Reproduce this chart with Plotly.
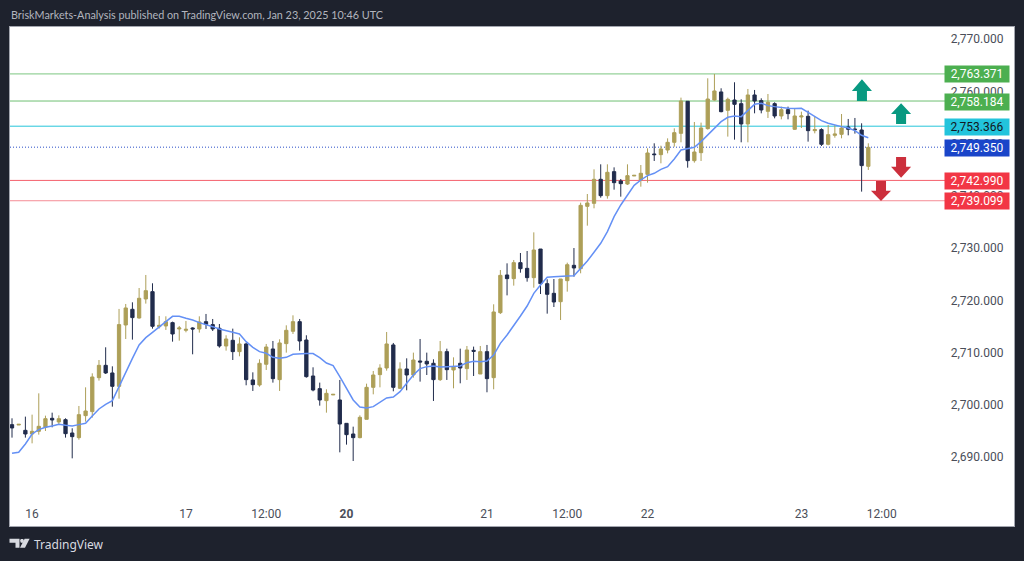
import plotly.graph_objects as go

W, H = 1024, 561
ML, MR, MT, MB = 10, 10, 27, 35

opens = [2696.25,2696.18,2695.16,2694.46,2694.97,2695.74,2697.46,2696.76,2697.2,2694.65,2693.76,2697.97,2698.74,2705.24,2707.6,2706.14,2703.58,2715.32,2718.32,2716.66,2720.3,2721.7,2715.0,2715.13,2715.77,2714.56,2714.3,2714.75,2714.56,2715.96,2715.39,2714.69,2711.3,2712.39,2710.22,2711.69,2704.8,2703.84,2707.8,2710.73,2704.86,2711.75,2714.11,2715.96,2712.45,2705.56,2703.14,2700.84,2701.93,2700.97,2696.5,2694.46,2693.76,2697.27,2703.39,2705.82,2707.09,2711.5,2703.2,2706.9,2705.75,2708.43,2708.37,2707.99,2704.86,2710.22,2706.71,2707.99,2706.97,2710.47,2705.94,2710.22,2705.24,2717.68,2724.89,2724.19,2727.25,2726.16,2724.38,2729.86,2723.23,2721.38,2719.78,2723.8,2726.74,2726.1,2738.03,2738.6,2743.2,2740.07,2744.67,2742.88,2742.3,2743.84,2743.07,2744.15,2748.05,2747.92,2748.81,2750.28,2752.0,2758.13,2746.77,2748.3,2752.9,2758.38,2759.92,2756.4,2758.38,2757.68,2753.79,2759.34,2758.26,2756.21,2757.68,2755.32,2756.53,2752.77,2755.13,2755.26,2752.51,2752.71,2749.9,2751.62,2751.81,2753.22,2752.83,2752.64,2745.69]
highs = [2697.46,2696.31,2697.78,2698.16,2702.24,2697.97,2698.54,2698.03,2697.46,2695.55,2699.82,2703.39,2706.07,2708.62,2711.05,2707.41,2718.39,2719.34,2719.66,2722.4,2724.89,2723.3,2717.05,2716.98,2715.96,2715.13,2716.09,2714.88,2716.98,2717.43,2716.47,2715.51,2713.35,2714.62,2712.96,2711.94,2706.26,2708.75,2711.69,2712.26,2712.58,2715.26,2717.17,2716.47,2713.35,2707.22,2704.29,2703.01,2702.05,2704.8,2696.5,2695.86,2698.03,2704.09,2706.52,2707.8,2713.98,2711.88,2708.18,2708.94,2710.03,2712.64,2710.03,2708.75,2712.26,2710.79,2709.13,2710.79,2711.3,2711.18,2711.3,2711.5,2719.28,2725.84,2727.12,2727.76,2729.1,2729.48,2733.05,2729.86,2724.06,2724.12,2724.12,2727.25,2730.05,2738.73,2740.39,2745.11,2746.07,2746.07,2745.49,2743.26,2746.07,2743.96,2745.94,2749.13,2750.09,2749.64,2751.04,2752.96,2758.83,2758.13,2754.17,2754.05,2762.53,2763.36,2760.62,2758.83,2761.77,2758.51,2760.49,2760.3,2758.7,2759.53,2757.94,2757.11,2757.11,2756.66,2756.15,2756.34,2755.19,2752.96,2753.6,2753.6,2755.7,2754.75,2754.94,2753.92,2750.09]
lows = [2693.76,2696.18,2693.76,2692.67,2694.33,2695.03,2695.74,2696.37,2693.76,2689.8,2693.37,2696.82,2697.59,2704.67,2705.94,2699.69,2701.22,2712.64,2712.52,2716.54,2719.41,2714.62,2714.62,2714.37,2712.13,2712.32,2713.92,2709.71,2713.86,2714.56,2714.17,2710.98,2710.41,2708.62,2709.33,2703.78,2702.69,2703.52,2706.71,2704.29,2702.69,2710.03,2713.6,2710.41,2705.24,2702.63,2699.88,2698.54,2701.93,2690.95,2692.42,2689.29,2693.63,2697.27,2702.05,2703.39,2706.58,2702.63,2703.07,2702.82,2705.24,2704.48,2705.75,2700.78,2704.6,2704.8,2703.2,2704.16,2704.8,2705.56,2705.94,2702.44,2703.01,2717.42,2720.99,2722.85,2725.33,2723.61,2722.46,2721.25,2717.49,2718.76,2716.27,2721.7,2724.57,2725.21,2734.33,2737.65,2739.69,2739.5,2741.22,2739.88,2742.11,2743.84,2741.79,2742.56,2746.71,2746.26,2748.17,2749.45,2750.28,2745.43,2746.39,2746.71,2752.71,2758.26,2756.02,2751.37,2750.79,2750.28,2750.28,2755.83,2755.83,2754.94,2754.87,2754.68,2754.68,2752.64,2753.02,2750.41,2752.0,2749.58,2749.71,2751.17,2751.05,2751.62,2751.94,2740.84,2744.99]
closes = [2695.61,2696.31,2694.46,2694.97,2695.93,2697.39,2697.14,2697.39,2694.52,2693.95,2698.16,2698.86,2705.37,2707.6,2706.14,2703.58,2715.39,2718.58,2716.73,2720.43,2721.89,2715.07,2715.26,2715.96,2713.6,2714.75,2714.49,2714.56,2715.9,2715.45,2714.56,2711.3,2712.64,2710.22,2711.69,2704.86,2703.9,2707.99,2711.11,2705.05,2711.88,2714.3,2715.96,2712.26,2705.43,2702.88,2700.97,2702.24,2702.05,2696.37,2694.33,2693.76,2697.65,2703.39,2705.75,2707.09,2711.69,2703.39,2706.9,2705.75,2708.62,2708.24,2707.86,2704.86,2710.22,2706.77,2707.28,2707.09,2710.54,2710.28,2710.22,2705.05,2717.81,2724.82,2724.19,2727.25,2726.1,2724.38,2729.67,2723.23,2721.19,2719.72,2724.12,2726.86,2726.23,2738.22,2738.67,2743.2,2740.07,2744.54,2742.56,2742.37,2743.9,2743.96,2744.35,2748.24,2747.92,2749.0,2750.28,2752.13,2758.19,2746.77,2748.43,2753.02,2758.57,2760.11,2756.15,2758.51,2757.55,2753.79,2759.34,2758.19,2756.47,2757.94,2755.32,2756.53,2755.77,2755.32,2755.32,2752.51,2752.71,2749.9,2751.75,2751.88,2753.02,2752.77,2752.71,2745.82,2749.32]
sma = [2690.76,2690.95,2692.55,2694.46,2695.29,2695.74,2695.99,2696.31,2696.12,2695.99,2696.25,2696.5,2697.91,2699.25,2700.14,2700.84,2703.52,2706.07,2708.94,2711.5,2712.9,2713.92,2714.88,2715.96,2716.98,2716.98,2716.6,2716.28,2715.77,2715.45,2715.0,2714.56,2714.17,2713.92,2713.6,2712.13,2711.05,2710.22,2709.9,2709.13,2708.94,2709.13,2709.71,2709.84,2709.84,2709.84,2709.07,2708.05,2707.54,2705.43,2703.2,2700.97,2699.63,2699.44,2699.69,2700.46,2701.35,2701.54,2702.56,2704.16,2705.75,2706.97,2707.35,2707.48,2707.28,2707.35,2707.35,2707.48,2708.11,2708.37,2708.3,2708.43,2709.57,2711.81,2713.4,2715.13,2717.04,2718.95,2721.38,2722.97,2724.44,2724.57,2724.7,2724.7,2724.76,2726.1,2727.57,2729.23,2730.95,2733.18,2736.05,2738.29,2740.2,2742.05,2743.07,2743.9,2744.35,2745.11,2745.62,2747.09,2748.81,2749.13,2749.32,2750.41,2751.68,2753.15,2754.24,2755.07,2755.32,2755.19,2756.47,2757.55,2757.75,2757.3,2757.11,2756.92,2756.79,2756.73,2756.79,2756.02,2755.19,2754.43,2753.92,2753.54,2753.28,2753.02,2752.51,2751.62,2751.17]

bar_index = list(range(len(closes)))
x_tick_positions = [3, 26, 38, 50, 71, 83, 95, 118, 130]
x_tick_labels = ["16", "17", "12:00", "<b>20</b>", "21", "12:00", "22", "23", "12:00"]
price_ticks = [2690, 2700, 2710, 2720, 2730, 2740, 2750, 2760, 2770]

level_prices = [2763.371, 2758.184, 2753.366, 2749.350, 2742.990, 2739.099]
level_labels = ["2,763.371", "2,758.184", "2,753.366", "2,749.350", "2,742.990", "2,739.099"]
level_line_colors = ["#7cc680", "#6fbf73", "#26c6da", "#2a4fc8", "#f4606c", "#f58d95"]
level_box_colors = ["#4caf50", "#4caf50", "#22c4dc", "#1a45c9", "#f23645", "#f23645"]
level_text_colors = ["#ffffff", "#ffffff", "#131722", "#ffffff", "#ffffff", "#ffffff"]
level_dash = ["solid", "solid", "solid", "1px,2px", "solid", "solid"]

# arrows: centre bar position, tip price, head-base price, tail price
arrow_x = [127.05, 132.9, 132.9, 129.9]
arrow_tip = [2762.34, 2757.75, 2743.5, 2739.05]
arrow_head = [2760.1, 2755.7, 2745.6, 2741.0]
arrow_tail = [2758.2, 2753.8, 2747.47, 2742.9]
arrow_colors = ["#089981", "#089981", "#cc2f3c", "#cc2f3c"]

GOLD = "#ad9f58"
NAVY = "#212c4c"
BG = "#1e222d"
EDGE = "#a3a6af"

fig = go.Figure()
fig.add_trace(go.Candlestick(
    x=bar_index, open=opens, high=highs, low=lows, close=closes,
    increasing=dict(line=dict(color=GOLD, width=1), fillcolor=GOLD),
    decreasing=dict(line=dict(color=NAVY, width=1), fillcolor=NAVY),
    hoverinfo="skip", showlegend=False,
))
fig.add_trace(go.Scatter(
    x=bar_index, y=sma, mode="lines",
    line=dict(color="#6490f5", width=1.5),
    hoverinfo="skip", showlegend=False,
))

shapes = []
for p, c, d in zip(level_prices, level_line_colors, level_dash):
    shapes.append(dict(type="line", xref="x", yref="y", x0=-0.3, x1=139.5, y0=p, y1=p,
                       line=dict(color=c, width=1, dash=d), layer="below"))
for x, tip, head, tail, col in zip(arrow_x, arrow_tip, arrow_head, arrow_tail, arrow_colors):
    hw, sw = 1.5, 0.75
    path = (f"M {x} {tip} L {x+hw} {head} L {x+sw} {head} L {x+sw} {tail} "
            f"L {x-sw} {tail} L {x-sw} {head} L {x-hw} {head} Z")
    shapes.append(dict(type="path", xref="x", yref="y", path=path,
                       fillcolor=col, line=dict(width=0), layer="above"))

def px(x):
    return (x - ML) / (W - ML - MR)
def py(y):
    return 1 - (y - MT) / (H - MT - MB)
def poly(pts):
    return "M " + " L ".join(f"{px(a):.5f} {py(b):.5f}" for a, b in pts) + " Z"

LOGO = "#d8dae0"
logo_paths = [
    poly([(9.5, 538.7), (19.5, 538.7), (19.5, 547.7), (15.5, 547.7), (15.5, 542.7), (9.5, 542.7)]),
    poly([(24.6, 538.7), (29.6, 538.7), (25, 547.7), (20, 547.7)]),
    poly([(20.8, 538.9), (23.2, 538.9), (23.9, 540.8), (23.2, 542.7), (20.8, 542.7), (20.1, 540.8)]),
]
for p in logo_paths:
    shapes.append(dict(type="path", xref="paper", yref="paper", path=p,
                       fillcolor=LOGO, line=dict(width=0), layer="above"))

annotations = [
    dict(xref="paper", yref="paper", x=px(10), y=py(14), xanchor="left", yanchor="middle",
         text="BriskMarkets-Analysis published on TradingView.com, Jan 23, 2025 10:46 UTC",
         showarrow=False, xshift=-1, font=dict(family="Lato", size=10.8, color="#b2b5be")),
    dict(xref="paper", yref="paper", x=px(32.5), y=py(544), xanchor="left", yanchor="middle",
         text="TradingView", showarrow=False, xshift=-1,
         font=dict(family="Noto Sans", size=12, color="#d8dae0")),
]
for p, t, bc, tc in zip(level_prices, level_labels, level_box_colors, level_text_colors):
    annotations.append(dict(
        xref="paper", x=px(977.3), yref="y", y=p, yshift=-0.5, text=t, showarrow=False,
        xanchor="center", yanchor="middle", width=64, height=16, align="center", valign="middle",
        bgcolor=bc, borderpad=0, font=dict(family="Roboto", size=12, color=tc)))

fig.update_layout(
    width=W, height=H, autosize=False,
    margin=dict(l=ML, r=MR, t=MT, b=MB, pad=0),
    paper_bgcolor=BG, plot_bgcolor="#ffffff",
    showlegend=False, shapes=shapes, annotations=annotations,
    font=dict(family="Roboto", size=12, color="#4a4e59"),
    xaxis=dict(
        range=[-0.3, 149.78], rangeslider=dict(visible=False), showgrid=False, zeroline=False,
        tickmode="array", tickvals=x_tick_positions, ticktext=x_tick_labels,
        ticks="inside", ticklen=5, tickcolor="#ffffff", tickwidth=1,
        ticklabelposition="inside", tickfont=dict(family="Roboto", size=12, color="#4a4e59"),
        showline=True, linecolor=EDGE, linewidth=1, mirror=True,
    ),
    yaxis=dict(
        range=[2676.85, 2772.35], side="right", showgrid=False, zeroline=False,
        tickmode="array", tickvals=price_ticks, tickformat=",.3f",
        ticks="inside", ticklen=10, tickcolor="#ffffff", tickwidth=1,
        ticklabelposition="inside", tickfont=dict(family="Roboto", size=12, color="#4a4e59"),
        showline=True, linecolor=EDGE, linewidth=1, mirror=True,
    ),
)

fig.write_html("out.html", config=dict(displayModeBar=False),
               post_script="document.body.style.margin='0';document.body.style.background='#1e222d';document.body.style.overflow='hidden';")
